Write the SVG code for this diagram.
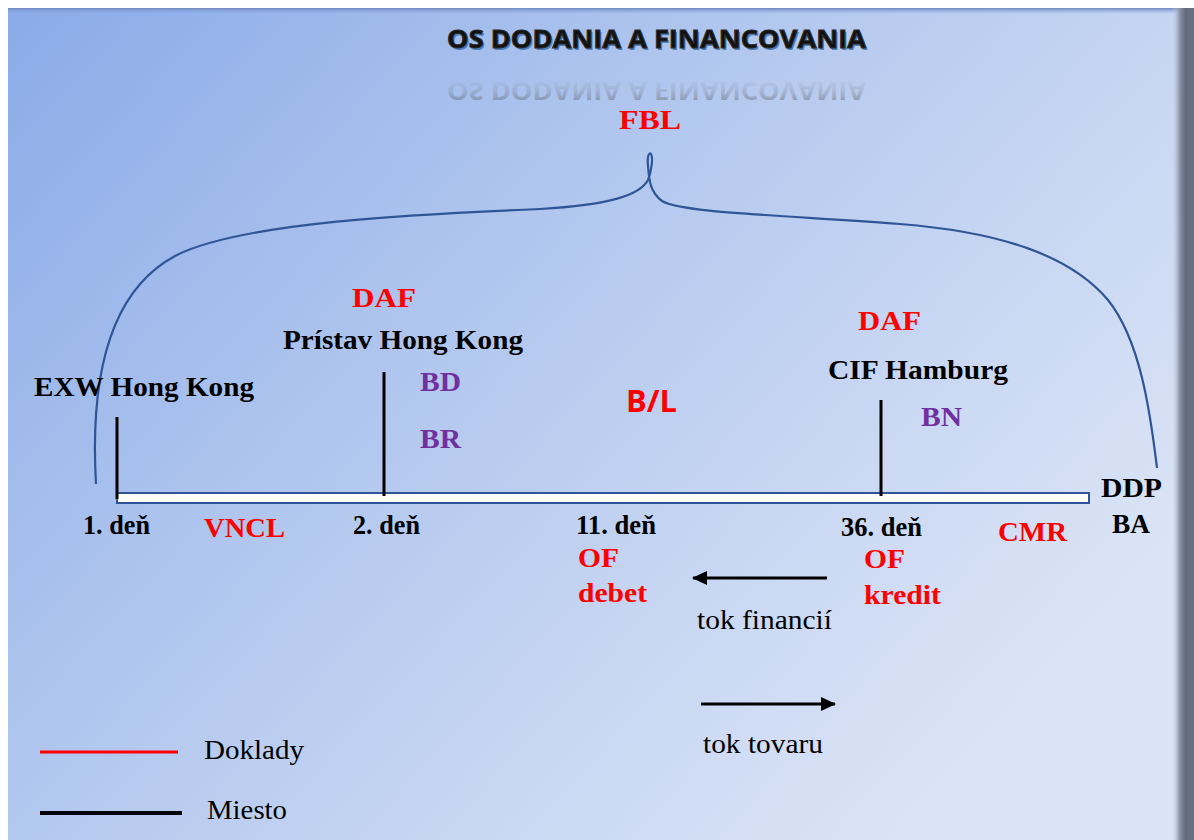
<svg xmlns="http://www.w3.org/2000/svg" width="1194" height="840" viewBox="0 0 1194 840">
<defs>
<linearGradient id="bg" gradientUnits="userSpaceOnUse" x1="8" y1="8" x2="900" y2="840">
<stop offset="0" stop-color="#8aabe8"/>
<stop offset="0.5" stop-color="#b6caef"/>
<stop offset="1" stop-color="#dbe4f6"/>
</linearGradient>
<linearGradient id="rshadow" x1="0" y1="0" x2="1" y2="0">
<stop offset="0" stop-color="#c9d4ee" stop-opacity="0"/>
<stop offset="0.35" stop-color="#8a93a8"/>
<stop offset="0.6" stop-color="#646b7c"/>
<stop offset="1" stop-color="#6a7182"/>
</linearGradient>
<linearGradient id="tshadow" x1="0" y1="0" x2="0" y2="1">
<stop offset="0" stop-color="#7088bd"/>
<stop offset="1" stop-color="#8aabe8" stop-opacity="0"/>
</linearGradient>
<linearGradient id="refl" x1="0" y1="0" x2="0" y2="1">
<stop offset="0" stop-color="#555b66" stop-opacity="0.7"/>
<stop offset="0.5" stop-color="#7a8090" stop-opacity="0.3"/>
<stop offset="1" stop-color="#a0a8b8" stop-opacity="0"/>
</linearGradient>
<marker id="arrowhead" markerWidth="15" markerHeight="15" refX="14" refY="7.5" orient="auto" markerUnits="userSpaceOnUse" viewBox="0 0 15 15">
<path d="M0,0.5 L15,7.5 L0,14.5 Z" fill="#000"/>
</marker>
</defs>
<style>
.b{font-family:"Liberation Serif","Times New Roman",serif;font-weight:bold;font-size:27px}
.r{font-family:"Liberation Serif","Times New Roman",serif;font-size:27px;fill:#000}
.red{fill:#ff0000}
.pur{fill:#7030a0}
.blk{fill:#000}
.tick{stroke:#000;stroke-width:3;fill:none}
.title{font-family:"Open Sans","Noto Sans",sans-serif;font-weight:bold;font-size:25px}
</style>
<rect x="0" y="0" width="1194" height="840" fill="#ffffff"/>
<rect x="8" y="8" width="1186" height="832" fill="url(#bg)"/>
<rect x="8" y="8" width="1186" height="6" fill="url(#tshadow)"/>
<rect x="1172" y="8" width="22" height="832" fill="url(#rshadow)"/>

<g id="title">
<text class="title" x="448.5" y="50" fill="#4f81bd" textLength="419" lengthAdjust="spacingAndGlyphs">OS DODANIA A FINANCOVANIA</text>
<text class="title" x="447" y="48" fill="#111" stroke="#2a2a2a" stroke-width="1" textLength="419" lengthAdjust="spacingAndGlyphs">OS DODANIA A FINANCOVANIA</text>
<text class="title" x="447" y="48" fill="url(#refl)" transform="translate(0,130) scale(1,-1)" textLength="419" lengthAdjust="spacingAndGlyphs">OS DODANIA A FINANCOVANIA</text>
</g>

<g id="connectors">
<path id="brace" d="M96,484 C90,380 108,292 175,256 C240,222 420,214 540,209 C610,205 640,195 648,180 C652,170 653,157 651,154 C649,152 647,156 648,166 C649,180 650,192 662,201 C680,212 760,214 900,224 C1000,232 1070,255 1108,300 C1140,340 1150,410 1157,468" fill="none" stroke="#2f5597" stroke-width="2.2"/>
<rect id="timeline" x="117" y="493" width="972" height="10" fill="#ffffff" stroke="#2f5597" stroke-width="2"/>
<line class="tick" x1="117" y1="417" x2="117" y2="499"/>
<line class="tick" x1="384" y1="372" x2="384" y2="496"/>
<line class="tick" x1="881" y1="400" x2="881" y2="496"/>
<line id="tok-financii" x1="827" y1="578" x2="693" y2="578" stroke="#000" stroke-width="3" marker-end="url(#arrowhead)"/>
<line id="tok-tovaru" x1="701" y1="704" x2="835" y2="704" stroke="#000" stroke-width="3" marker-end="url(#arrowhead)"/>
</g>

<g id="fbl"><text class="b red" x="619" y="129" font-size="29" textLength="62" lengthAdjust="spacingAndGlyphs">FBL</text></g>

<g id="node-exw">
<text class="b blk" x="34" y="396" textLength="220" lengthAdjust="spacingAndGlyphs">EXW Hong Kong</text>
<text class="b blk" x="83" y="534" font-size="26" textLength="67" lengthAdjust="spacingAndGlyphs">1. deň</text>
</g>
<g id="node-vncl"><text class="b red" x="204" y="537" textLength="81" lengthAdjust="spacingAndGlyphs">VNCL</text></g>

<g id="node-pristav">
<text class="b red" x="352" y="307" font-size="29" textLength="64" lengthAdjust="spacingAndGlyphs">DAF</text>
<text class="b blk" x="283" y="349" textLength="240" lengthAdjust="spacingAndGlyphs">Prístav Hong Kong</text>
<text class="b pur" x="420" y="391" textLength="41" lengthAdjust="spacingAndGlyphs">BD</text>
<text class="b pur" x="420" y="448" textLength="41" lengthAdjust="spacingAndGlyphs">BR</text>
<text class="b blk" x="353" y="534" font-size="26" textLength="67" lengthAdjust="spacingAndGlyphs">2. deň</text>
</g>

<g id="node-bl">
<text x="626" y="412" font-family="'Open Sans','Noto Sans',sans-serif" font-weight="bold" font-size="30" fill="#ff0000" textLength="51" lengthAdjust="spacingAndGlyphs">B/L</text>
<text class="b blk" x="576" y="534" font-size="26" textLength="80" lengthAdjust="spacingAndGlyphs">11. deň</text>
<text class="b red" x="578" y="567" textLength="41" lengthAdjust="spacingAndGlyphs">OF</text>
<text class="b red" x="578" y="602" textLength="69" lengthAdjust="spacingAndGlyphs">debet</text>
</g>

<g id="node-cif">
<text class="b red" x="858" y="330" font-size="29" textLength="63" lengthAdjust="spacingAndGlyphs">DAF</text>
<text class="b blk" x="828" y="379" textLength="180" lengthAdjust="spacingAndGlyphs">CIF Hamburg</text>
<text class="b pur" x="921" y="426" textLength="41" lengthAdjust="spacingAndGlyphs">BN</text>
<text class="b blk" x="841" y="536" font-size="26" textLength="81" lengthAdjust="spacingAndGlyphs">36. deň</text>
<text class="b red" x="864" y="568" textLength="41" lengthAdjust="spacingAndGlyphs">OF</text>
<text class="b red" x="864" y="604" textLength="77" lengthAdjust="spacingAndGlyphs">kredit</text>
</g>

<g id="node-cmr"><text class="b red" x="998" y="541" textLength="69" lengthAdjust="spacingAndGlyphs">CMR</text></g>

<g id="node-ddp">
<text class="b blk" x="1101" y="497" textLength="61" lengthAdjust="spacingAndGlyphs">DDP</text>
<text class="b blk" x="1112" y="533" textLength="38" lengthAdjust="spacingAndGlyphs">BA</text>
</g>

<g id="arrow-labels">
<text class="r" x="697" y="629" textLength="135" lengthAdjust="spacingAndGlyphs">tok financií</text>
<text class="r" x="703" y="753" textLength="120" lengthAdjust="spacingAndGlyphs">tok tovaru</text>
</g>

<g id="legend">
<line x1="40" y1="752" x2="178" y2="752" stroke="#ff0000" stroke-width="3"/>
<text class="r" x="204" y="759" textLength="100" lengthAdjust="spacingAndGlyphs">Doklady</text>
<line x1="40" y1="813" x2="182" y2="813" stroke="#000" stroke-width="4"/>
<text class="r" x="207" y="819" textLength="80" lengthAdjust="spacingAndGlyphs">Miesto</text>
</g>
</svg>
